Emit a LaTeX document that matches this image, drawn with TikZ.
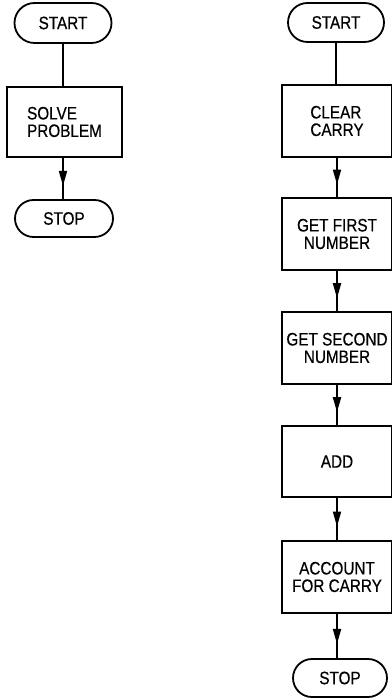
\documentclass[tikz,border=0pt]{standalone}
\usepackage{fontspec}
\setmainfont[FakeStretch=0.85,FakeBold=0.5]{Liberation Sans}
\usetikzlibrary{arrows.meta,decorations.markings,shapes.misc}
\begin{document}
\begin{tikzpicture}[x=1pt,y=-1pt,
  every node/.style={font=\fontsize{18}{17.5}\selectfont, inner sep=0pt},
  term/.style={draw, line width=1.8pt, rounded rectangle},
  procbox/.style={draw, line width=1.8pt, rectangle, align=center},
  flow/.style={line width=1.8pt},
  arr/.style={flow, postaction={decorate},
    decoration={markings, mark=at position 0.68 with {\arrow{Triangle[length=15pt,width=8pt]}}}}]
\useasboundingbox (0,0) rectangle (391,700);
% left chart
\node[term, minimum width=97pt, minimum height=40pt] (ls) at (63,23) {START};
\node[procbox, align=left, minimum width=115pt, minimum height=70pt] (lb) at (64.5,122) {SOLVE\\PROBLEM};
\node[term, minimum width=98pt, minimum height=37pt] (le) at (64,218.5) {STOP};
\draw[flow] (ls.south) -- (ls.south |- lb.north);
\draw[arr] (ls.south |- lb.south) -- (ls.south |- le.north);
% right chart
\node[term, minimum width=96pt, minimum height=39pt] (rs) at (336,22.5) {START};
\node[procbox, align=left, minimum width=110pt, minimum height=72pt] (b1) at (337,121) {CLEAR\\CARRY};
\node[procbox, minimum width=110pt, minimum height=72pt] (b2) at (337,234) {GET FIRST\\NUMBER};
\node[procbox, minimum width=110pt, minimum height=72pt] (b3) at (337,348) {GET SECOND\\NUMBER};
\node[procbox, minimum width=110pt, minimum height=71pt] (b4) at (337,461.5) {ADD};
\node[procbox, minimum width=110pt, minimum height=72pt] (b5) at (337,577) {ACCOUNT\\FOR CARRY};
\node[term, minimum width=94pt, minimum height=38pt] (re) at (340,678) {STOP};
\draw[flow] (rs.south) -- (rs.south |- b1.north);
\draw[arr] (b1.south) -- (b2.north);
\draw[arr] (b2.south) -- (b3.north);
\draw[arr] (b3.south) -- (b4.north);
\draw[arr] (b4.south) -- (b5.north);
\draw[arr] (b5.south) -- (b5.south |- re.north);
\end{tikzpicture}
\end{document}
